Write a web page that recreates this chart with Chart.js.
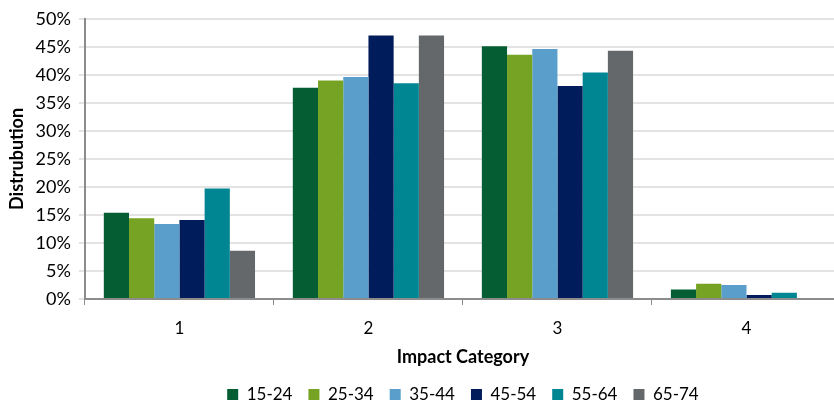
<!DOCTYPE html>
<html>
<head>
<meta charset="utf-8">
<script src="https://cdn.jsdelivr.net/npm/chart.js@4.4.1/dist/chart.umd.min.js"></script>
<style>
    html, body { margin: 0; padding: 0; background: #fff; overflow: hidden; }
    #wrap { width: 834px; height: 403px; overflow: hidden; }
    #box { width: 926px; height: 403px; }
</style>
</head>
<body>
<div id="wrap"><div id="box"><canvas id="impactChart"></canvas></div></div>
<script>
// impact categories and age bands
const categories = ['1', '2', '3', '4'];
const ageGroups = ['15-24', '25-34', '35-44', '45-54', '55-64', '65-74'];
const groupColors = ['#055e33', '#77a324', '#5a9fcb', '#001c5a', '#008593', '#65686b'];

// distribution (%) per age group, one value per impact category
const age15to24 = [15.4, 37.7, 45.1, 1.7];
const age25to34 = [14.4, 39.0, 43.6, 2.7];
const age35to44 = [13.4, 39.6, 44.6, 2.5];
const age45to54 = [14.1, 47.0, 38.0, 0.7];
const age55to64 = [19.7, 38.5, 40.4, 1.1];
const age65to74 = [8.6, 47.0, 44.3, 0];

const yTicks = [0, 5, 10, 15, 20, 25, 30, 35, 40, 45, 50];

const seriesValues = [age15to24, age25to34, age35to44, age45to54, age55to64, age65to74];

// center the legend under the plot area (like the excel original)
const legendUnderPlot = {
    id: 'legendUnderPlot',
    afterLayout: function (chart) {
        chart.legend.left = chart.chartArea.left;
        chart.legend.right = chart.chartArea.right;
    }
};

document.addEventListener("DOMContentLoaded", function () {

    const font = "Lato, 'Open Sans', sans-serif";

    const impactChart = new Chart(document.getElementById('impactChart'), {
        type: 'bar',
        data: {
            labels: categories,
            datasets: ageGroups.map(function (name, i) {
                return {
                    label: name,
                    data: seriesValues[i],
                    backgroundColor: groupColors[i],
                    borderWidth: 0,
                    categoryPercentage: 0.8,
                    barPercentage: 1.0
                };
            })
        },
        options: {
            responsive: true,
            maintainAspectRatio: false,
            animation: false,
            layout: {
                padding: { top: 1, right: 85, left: 6, bottom: -10 }
            },
            plugins: {
                legend: {
                    position: 'bottom',
                    labels: {
                        boxWidth: 11,
                        boxHeight: 11,
                        padding: 16,
                        color: '#000',
                        font: { family: font, size: 17 }
                    }
                },
                tooltip: { enabled: false }
            },
            scales: {
                x: {
                    grid: {
                        display: true,
                        drawOnChartArea: false,
                        offset: true,
                        tickLength: 6,
                        color: '#8c8c8c'
                    },
                    border: { color: '#8c8c8c', width: 2 },
                    ticks: {
                        color: '#000',
                        padding: 13,
                        font: { family: font, size: 17 }
                    },
                    title: {
                        display: true,
                        text: 'Impact Category',
                        color: '#000',
                        padding: { top: -5, bottom: 2 },
                        font: { family: font, size: 18, weight: 'bold' }
                    }
                },
                y: {
                    min: 0,
                    max: 50,
                    afterBuildTicks: function (axis) {
                        axis.ticks = yTicks.map(function (v) { return { value: v }; });
                    },
                    grid: {
                        color: '#e3e3e3',
                        lineWidth: 2,
                        tickLength: 6
                    },
                    border: { color: '#8c8c8c', width: 2 },
                    ticks: {
                        color: '#000',
                        padding: 8,
                        font: { family: font, size: 18 },
                        callback: function (v) { return v + '%'; }
                    },
                    title: {
                        display: true,
                        text: 'Distrubution',
                        color: '#000',
                        padding: { top: 0, bottom: 0 },
                        font: { family: font, size: 18, weight: 'bold' }
                    }
                }
            }
        },
        plugins: [legendUnderPlot]
    });

});
</script>
</body>
</html>
